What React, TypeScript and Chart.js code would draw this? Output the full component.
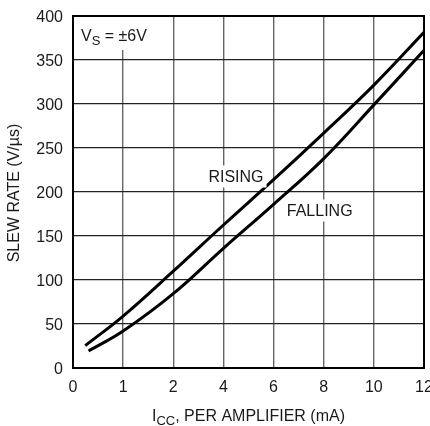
import { useEffect, useRef } from 'react';
import { Chart, registerables } from 'chart.js';

Chart.register(...registerables);

// x-axis tick labels (mA) — equally spaced grid divisions
const xTickLabels = [0, 1, 2, 4, 6, 8, 10, 12];

// RISING curve: supply current (mA) vs slew rate (V/µs)
const risingCurrent = [0.245, 1, 2, 4, 6, 8, 10, 12];
const risingSlew = [25.5, 59, 110, 162.5, 214, 267, 321.5, 381.5];

// FALLING curve
const fallingCurrent = [0.31, 1, 2, 4, 6, 8, 10, 12];
const fallingSlew = [19.3, 42, 84.5, 136, 186, 238, 299, 361];

const yMin = 0;
const yMax = 400;
const yStep = 50;

const FAMILY = '"Liberation Sans", Arial, sans-serif';
const TEXT_COLOR = '#1a1a1a';

// map a current value onto the (piecewise) tick-position axis
function toPos(mA: number): number {
  for (let i = 0; i < xTickLabels.length - 1; i++) {
    const a = xTickLabels[i];
    const b = xTickLabels[i + 1];
    if (mA <= b || i === xTickLabels.length - 2) {
      return i + (mA - a) / (b - a);
    }
  }
  return 0;
}

export default function App() {
  const ref = useRef<HTMLCanvasElement>(null);

  useEffect(() => {
    const canvas = ref.current;
    if (!canvas) return;

    const drawLabelBox = (ctx: CanvasRenderingContext2D, text: string, cx: number, cy: number) => {
      ctx.font = `16px ${FAMILY}`;
      const w = ctx.measureText(text).width;
      ctx.fillStyle = '#fff';
      ctx.fillRect(cx - w / 2 - 3, cy - 11, w + 6, 22);
      ctx.fillStyle = TEXT_COLOR;
      ctx.textAlign = 'center';
      ctx.textBaseline = 'middle';
      ctx.fillText(text, cx, cy + 1);
    };

    const annot = {
      id: 'annot',
      afterDatasetsDraw(chart: any) {
        const ctx: CanvasRenderingContext2D = chart.ctx;
        const xs = chart.scales.x;
        const ys = chart.scales.y;
        const area = chart.chartArea;
        ctx.save();
        // curve labels
        drawLabelBox(ctx, 'RISING', xs.getPixelForValue(3.25), ys.getPixelForValue(217.6));
        drawLabelBox(ctx, 'FALLING', xs.getPixelForValue(4.92), ys.getPixelForValue(179));

        // V_S label with white box
        const big = `16px ${FAMILY}`;
        const small = `13px ${FAMILY}`;
        const x0 = area.left + 8;
        const base = area.top + 24.5;
        ctx.font = big;
        const wV = ctx.measureText('V').width;
        ctx.font = small;
        const wS = ctx.measureText('S').width;
        ctx.font = big;
        const rest = ' = ±6V';
        const wR = ctx.measureText(rest).width;
        ctx.fillStyle = '#fff';
        ctx.fillRect(area.left + 1, area.top + 1, wV + wS + wR + 16, 33);
        ctx.fillStyle = TEXT_COLOR;
        ctx.textAlign = 'left';
        ctx.textBaseline = 'alphabetic';
        ctx.font = big;
        ctx.fillText('V', x0, base);
        ctx.font = small;
        ctx.fillText('S', x0 + wV, base + 4);
        ctx.font = big;
        ctx.fillText(rest, x0 + wV + wS, base);
        ctx.restore();
      },
      afterDraw(chart: any) {
        const ctx: CanvasRenderingContext2D = chart.ctx;
        const area = chart.chartArea;
        ctx.save();
        // frame
        ctx.strokeStyle = '#000';
        ctx.lineWidth = 2;
        ctx.strokeRect(area.left, area.top, area.right - area.left, area.bottom - area.top);

        // y title
        ctx.fillStyle = TEXT_COLOR;
        ctx.font = `16px ${FAMILY}`;
        ctx.textAlign = 'center';
        ctx.textBaseline = 'middle';
        ctx.translate(15, (area.top + area.bottom) / 2 + 1);
        ctx.rotate(-Math.PI / 2);
        ctx.fillText('SLEW RATE (V/µs)', 0, 0);
        ctx.restore();

        // x title with subscript
        ctx.save();
        const big = `16px ${FAMILY}`;
        const small = `13px ${FAMILY}`;
        const p1 = 'I';
        const p2 = 'CC';
        const p3 = ', PER AMPLIFIER (mA)';
        ctx.font = big;
        const w1 = ctx.measureText(p1).width;
        const w3 = ctx.measureText(p3).width;
        ctx.font = small;
        const w2 = ctx.measureText(p2).width;
        const total = w1 + w2 + w3;
        const cx = (area.left + area.right) / 2;
        let x = cx - total / 2;
        const base = 421;
        ctx.fillStyle = TEXT_COLOR;
        ctx.textAlign = 'left';
        ctx.textBaseline = 'alphabetic';
        ctx.font = big;
        ctx.fillText(p1, x, base);
        x += w1;
        ctx.font = small;
        ctx.fillText(p2, x, base + 4);
        x += w2;
        ctx.font = big;
        ctx.fillText(p3, x, base);
        ctx.restore();
      },
    };

    const chart = new Chart(canvas, {
      type: 'line',
      data: {
        datasets: [
          {
            label: 'RISING',
            data: risingCurrent.map((c, i) => ({ x: toPos(c), y: risingSlew[i] })),
            borderColor: '#000',
            borderWidth: 3,
            pointRadius: 0,
            tension: 0.4,
            fill: false,
          },
          {
            label: 'FALLING',
            data: fallingCurrent.map((c, i) => ({ x: toPos(c), y: fallingSlew[i] })),
            borderColor: '#000',
            borderWidth: 3,
            pointRadius: 0,
            tension: 0.4,
            fill: false,
          },
        ],
      },
      options: {
        responsive: false,
        animation: false,
        events: [],
        plugins: {
          legend: { display: false },
          tooltip: { enabled: false },
          title: { display: false },
        },
        layout: { padding: { left: 0, top: 16, right: 6, bottom: 0 } },
        scales: {
          x: {
            type: 'linear',
            min: 0,
            max: xTickLabels.length - 1,
            ticks: {
              stepSize: 1,
              autoSkip: false,
              maxRotation: 0,
              padding: 10,
              color: TEXT_COLOR,
              font: { family: FAMILY, size: 16 },
              callback: (v: any) => {
                const i = Math.round(Number(v));
                return i === Number(v) && xTickLabels[i] !== undefined ? String(xTickLabels[i]) : '';
              },
            },
            grid: { color: '#666', lineWidth: 1.4, drawTicks: false },
            border: { color: '#000', width: 2 },
            afterFit: (s: any) => {
              s.height = 58;
              s.paddingLeft = 0;
              s.paddingRight = 0;
            },
          },
          y: {
            type: 'linear',
            min: yMin,
            max: yMax,
            ticks: {
              stepSize: yStep,
              padding: 10,
              labelOffset: 1.5,
              color: TEXT_COLOR,
              font: { family: FAMILY, size: 16 },
            },
            grid: { color: '#222', lineWidth: 1.2, drawTicks: false },
            border: { color: '#000', width: 2 },
            afterFit: (s: any) => {
              s.width = 73;
              s.paddingTop = 0;
              s.paddingBottom = 0;
            },
          },
        },
      },
      plugins: [annot],
    });

    return () => chart.destroy();
  }, []);

  return (
    <div style={{ position: 'fixed', left: 0, top: 0, width: 430, height: 426, background: '#fff' }}>
      <canvas ref={ref} width={430} height={426} style={{ display: 'block', width: 430, height: 426 }} />
    </div>
  );
}
